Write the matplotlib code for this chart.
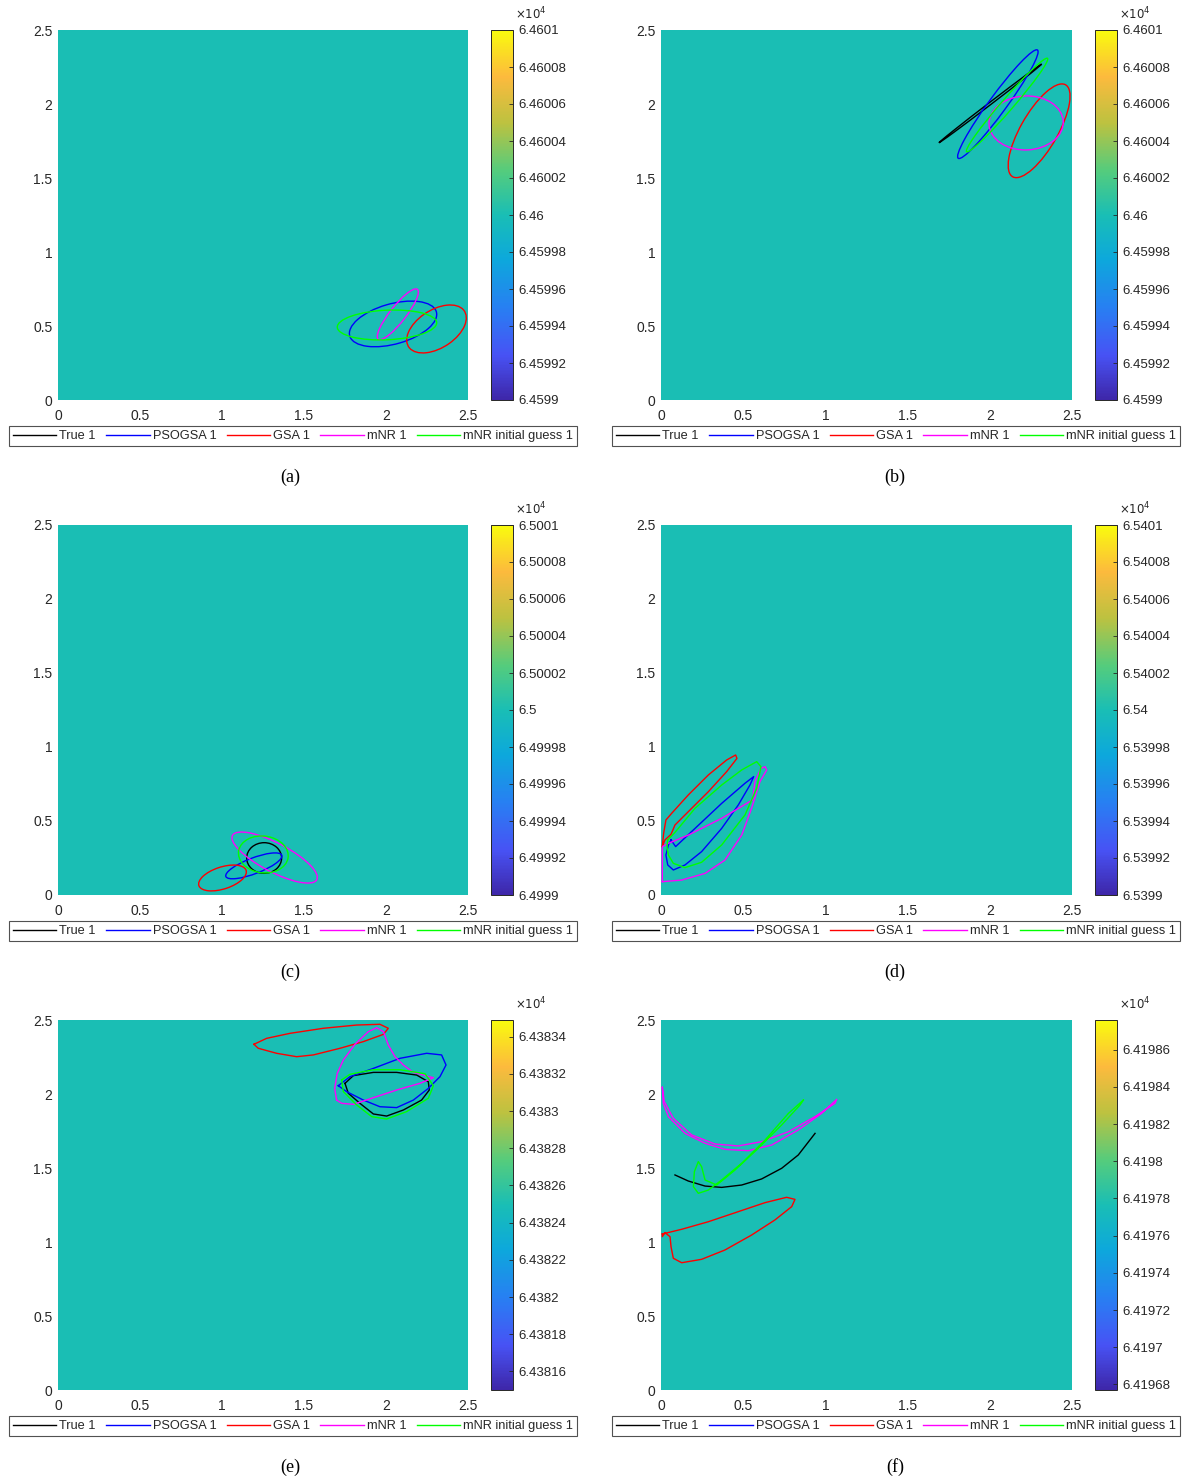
import numpy as np
import matplotlib
matplotlib.use('Agg')
import matplotlib.pyplot as plt
from matplotlib.colors import LinearSegmentedColormap
from matplotlib.patches import Ellipse
from matplotlib.lines import Line2D
from matplotlib.ticker import FuncFormatter

plt.rcParams['font.family'] = ['Liberation Sans', 'DejaVu Sans']

# ---- data ----
panel_labels = ['(a)', '(b)', '(c)', '(d)', '(e)', '(f)']
series_names = ['True 1', 'PSOGSA 1', 'GSA 1', 'mNR 1', 'mNR initial guess 1']
series_colors = ['black', '#0000ff', '#ff0000', '#ff00ff', '#00ff00']

# uniform objective value shown in each panel (x 1e4) and colour limits
field_values = [6.46, 6.46, 6.5, 6.54, 6.43825, 6.419777]
clims = [(6.4599, 6.4601), (6.4599, 6.4601), (6.4999, 6.5001),
         (6.5399, 6.5401), (6.43815, 6.438349), (6.419677, 6.419876)]
cbar_ticks = [
    [6.4599, 6.45992, 6.45994, 6.45996, 6.45998, 6.46, 6.46002, 6.46004, 6.46006, 6.46008, 6.4601],
    [6.4599, 6.45992, 6.45994, 6.45996, 6.45998, 6.46, 6.46002, 6.46004, 6.46006, 6.46008, 6.4601],
    [6.4999, 6.49992, 6.49994, 6.49996, 6.49998, 6.5, 6.50002, 6.50004, 6.50006, 6.50008, 6.5001],
    [6.5399, 6.53992, 6.53994, 6.53996, 6.53998, 6.54, 6.54002, 6.54004, 6.54006, 6.54008, 6.5401],
    [6.43816, 6.43818, 6.4382, 6.43822, 6.43824, 6.43826, 6.43828, 6.4383, 6.43832, 6.43834],
    [6.41968, 6.4197, 6.41972, 6.41974, 6.41976, 6.41978, 6.4198, 6.41982, 6.41984, 6.41986],
]
axis_ticks = [0, 0.5, 1, 1.5, 2, 2.5]
axis_tick_labels = ['0', '0.5', '1', '1.5', '2', '2.5']
edge_ticks = [0.5, 1, 1.5, 2]

# elliptical boundaries: (cx, cy, width, height, angle)
ellipses_a = {
    'PSOGSA 1': (2.043, 0.514, 0.553, 0.27, 18),
    'GSA 1': (2.308, 0.480, 0.418, 0.25, 38),
    'mNR 1': (2.072, 0.579, 0.413, 0.10, 55),
    'mNR initial guess 1': (2.006, 0.507, 0.607, 0.20, 3),
}
ellipses_b = {
    'True 1': (2.003, 2.004, 0.82, 0.015, 40.4),
    'PSOGSA 1': (2.049, 1.999, 0.876, 0.11, 56.7),
    'GSA 1': (2.300, 1.819, 0.70, 0.23, 63.2),
    'mNR 1': (2.221, 1.872, 0.452, 0.365, 3),
    'mNR initial guess 1': (2.105, 1.993, 0.80, 0.075, 52.1),
}
ellipses_c = {
    'True 1': (1.257, 0.25, 0.213, 0.207, 0),
    'PSOGSA 1': (1.194, 0.197, 0.37, 0.105, 23.2),
    'GSA 1': (1.003, 0.115, 0.306, 0.147, 20.6),
    'mNR 1': (1.321, 0.253, 0.595, 0.19, -30.7),
    'mNR initial guess 1': (1.252, 0.274, 0.305, 0.248, -10),
}

# free-form boundaries: list of (x, y) vertices
curves_d = {
    'PSOGSA 1': [(0.061, 0.372), (0.089, 0.327), (0.207, 0.450), (0.369, 0.619), (0.511, 0.755),
                 (0.564, 0.800), (0.541, 0.743), (0.470, 0.608), (0.369, 0.450), (0.247, 0.293),
                 (0.146, 0.203), (0.075, 0.169), (0.041, 0.203), (0.030, 0.270), (0.045, 0.338)],
    'GSA 1': [(0.008, 0.327), (0.016, 0.417), (0.030, 0.507), (0.065, 0.552), (0.166, 0.676),
              (0.288, 0.811), (0.399, 0.912), (0.454, 0.946), (0.462, 0.923), (0.399, 0.833),
              (0.288, 0.698), (0.166, 0.563), (0.085, 0.473), (0.061, 0.410), (0.024, 0.372)],
    'mNR 1': [(0.008, 0.090), (0.126, 0.101), (0.268, 0.146), (0.389, 0.236), (0.491, 0.405),
              (0.551, 0.586), (0.602, 0.766), (0.643, 0.845), (0.633, 0.867), (0.608, 0.856),
              (0.572, 0.766), (0.556, 0.642), (0.369, 0.518), (0.166, 0.405), (0.045, 0.349),
              (0.008, 0.327)],
    'mNR initial guess 1': [(0.041, 0.372), (0.085, 0.423), (0.207, 0.586), (0.369, 0.743),
                            (0.491, 0.845), (0.582, 0.901), (0.608, 0.867), (0.582, 0.721),
                            (0.511, 0.541), (0.369, 0.338), (0.247, 0.221), (0.146, 0.185),
                            (0.075, 0.214), (0.045, 0.270), (0.036, 0.327)],
}
curves_e = {
    'True 1': [(1.750, 2.072), (1.801, 2.124), (1.923, 2.146), (2.065, 2.146), (2.187, 2.128),
               (2.258, 2.083), (2.264, 2.027), (2.217, 1.959), (2.106, 1.892), (2.004, 1.851),
               (1.923, 1.865), (1.841, 1.937), (1.770, 2.005)],
    'PSOGSA 1': [(1.709, 2.056), (1.780, 2.117), (1.923, 2.173), (2.085, 2.241), (2.248, 2.275),
                 (2.339, 2.264), (2.366, 2.196), (2.329, 2.117), (2.258, 2.038), (2.167, 1.959),
                 (2.065, 1.908), (1.963, 1.914), (1.862, 1.959), (1.760, 2.016)],
    'GSA 1': [(1.195, 2.336), (1.272, 2.376), (1.415, 2.410), (1.618, 2.444), (1.821, 2.466),
              (1.963, 2.471), (2.014, 2.444), (1.984, 2.403), (1.862, 2.354), (1.720, 2.309),
              (1.557, 2.264), (1.455, 2.252), (1.333, 2.275), (1.221, 2.309)],
    'mNR 1': [(1.699, 1.959), (1.687, 2.038), (1.703, 2.140), (1.740, 2.230), (1.811, 2.336),
              (1.892, 2.421), (1.943, 2.448), (1.984, 2.421), (2.014, 2.331), (2.055, 2.252),
              (2.106, 2.196), (2.167, 2.146), (2.289, 2.110), (2.207, 2.072), (2.065, 2.027),
              (1.923, 1.975), (1.801, 1.930), (1.730, 1.937)],
    'mNR initial guess 1': [(1.730, 2.095), (1.780, 2.133), (1.923, 2.164), (2.085, 2.164),
                            (2.238, 2.137), (2.289, 2.056), (2.258, 1.971), (2.126, 1.881),
                            (2.004, 1.831), (1.913, 1.847), (1.821, 1.926), (1.740, 2.016)],
}
curves_f = {
    'True 1': [(0.085, 1.453), (0.166, 1.412), (0.268, 1.378), (0.369, 1.369), (0.491, 1.385),
               (0.612, 1.426), (0.734, 1.498), (0.835, 1.588), (0.937, 1.734)],
    'GSA 1': [(0.008, 1.054), (0.126, 1.086), (0.288, 1.137), (0.470, 1.205), (0.633, 1.266),
              (0.764, 1.302), (0.815, 1.288), (0.795, 1.239), (0.693, 1.149), (0.551, 1.047),
              (0.389, 0.946), (0.247, 0.883), (0.126, 0.860), (0.075, 0.890), (0.061, 0.968),
              (0.055, 1.036), (0.024, 1.063), (0.008, 1.036)],
    'mNR 1': [(0.008, 2.045), (0.014, 1.937), (0.045, 1.847), (0.146, 1.734), (0.268, 1.667),
              (0.389, 1.626), (0.531, 1.617), (0.673, 1.655), (0.835, 1.757), (0.977, 1.869),
              (1.069, 1.964), (1.058, 1.937), (0.937, 1.847), (0.775, 1.745), (0.612, 1.678),
              (0.470, 1.649), (0.328, 1.662), (0.187, 1.723), (0.075, 1.836), (0.020, 1.948)],
    'mNR initial guess 1': [(0.866, 1.959), (0.775, 1.869), (0.633, 1.689), (0.491, 1.532),
                            (0.369, 1.419), (0.288, 1.351), (0.227, 1.329), (0.197, 1.374),
                            (0.203, 1.475), (0.227, 1.543), (0.247, 1.509), (0.268, 1.419),
                            (0.339, 1.385), (0.450, 1.486), (0.592, 1.633), (0.734, 1.791),
                            (0.846, 1.926)],
}
open_curves = {('f', 'True 1')}

# approximate MATLAB parula
parula = LinearSegmentedColormap.from_list('parula', [
    (0.0, (0.2422, 0.1504, 0.6603)),
    (0.12, (0.2810, 0.3228, 0.9579)),
    (0.25, (0.1540, 0.5000, 0.9500)),
    (0.38, (0.0500, 0.6600, 0.8600)),
    (0.5, (0.1000, 0.7450, 0.7100)),
    (0.62, (0.3300, 0.8000, 0.4900)),
    (0.75, (0.7400, 0.7600, 0.2500)),
    (0.875, (0.9900, 0.7300, 0.2400)),
    (1.0, (0.9763, 0.9831, 0.0538)),
])

W, H = 1186, 1482
fig = plt.figure(figsize=(W / 100, H / 100), dpi=100)

col_ax = [(58, 410), (661, 411)]
col_cb = [491, 1095]
col_leg = [293, 896]
col_cap = [290, 895]
row_top = [30, 525, 1020]


def px_rect(x, y, w, h):
    return [x / W, 1 - (y + h) / H, w / W, h / H]


def draw_panel(i):
    row, col = divmod(i, 2)
    key = 'abcdef'[i]
    ax = fig.add_axes(px_rect(col_ax[col][0], row_top[row], col_ax[col][1], 370))
    cax = fig.add_axes(px_rect(col_cb[col], row_top[row], 22, 370))

    z = np.full((2, 2), field_values[i])
    mesh = ax.pcolormesh([0, 2.5], [0, 2.5], z, cmap=parula,
                         vmin=clims[i][0], vmax=clims[i][1], shading='nearest')
    ax.set_xlim(0, 2.5)
    ax.set_ylim(0, 2.5)

    if key in 'abc':
        ell = {'a': ellipses_a, 'b': ellipses_b, 'c': ellipses_c}[key]
        for name, color in zip(series_names, series_colors):
            if name in ell:
                cx, cy, w, h, ang = ell[name]
                ax.add_patch(Ellipse((cx, cy), w, h, angle=ang, fill=False,
                                     edgecolor=color, linewidth=1.0))
    else:
        cur = {'d': curves_d, 'e': curves_e, 'f': curves_f}[key]
        for name, color in zip(series_names, series_colors):
            if name in cur:
                pts = list(cur[name])
                if (key, name) not in open_curves:
                    pts = pts + [pts[0]]
                xs, ys = zip(*pts)
                ax.plot(xs, ys, color=color, linewidth=1.0, solid_joinstyle='round')

    for s in ax.spines.values():
        s.set_visible(False)
    ax.set_xticks(axis_ticks)
    ax.set_yticks(axis_ticks)
    ax.set_xticklabels(axis_tick_labels)
    ax.set_yticklabels(axis_tick_labels)
    ax.tick_params(which='major', length=0, labelsize=10, labelcolor='#262626')
    ax.tick_params(axis='x', which='major', pad=6.5)
    ax.tick_params(axis='y', which='major', pad=4)
    ax.set_xticks(edge_ticks, minor=True)
    ax.set_yticks(edge_ticks, minor=True)
    ax.tick_params(which='minor', direction='inout', length=5, width=2.4,
                   color='#2a78d0', top=True, right=True, bottom=True, left=True)

    cb = fig.colorbar(mesh, cax=cax)
    cb.set_ticks(cbar_ticks[i])
    cb.ax.yaxis.set_major_formatter(FuncFormatter(lambda v, p: f'{v:.6g}'))
    cb.ax.tick_params(direction='in', length=3, width=0.6, labelsize=9.5,
                      labelcolor='#262626', color='#262626', pad=4)
    cb.outline.set_edgecolor('#262626')
    cb.outline.set_linewidth(0.7)
    cb.ax.text(1.1, 1.02, r'$\times10^4$', transform=cb.ax.transAxes,
               ha='left', va='bottom', fontsize=8.5, color='#262626')

    handles = [Line2D([], [], color=c, linewidth=1.0) for c in series_colors]
    leg = fig.legend(handles, series_names, loc='center',
                     bbox_to_anchor=(col_leg[col] / W, 1 - (row_top[row] + 406) / H),
                     ncol=5, fontsize=9.2, frameon=True, fancybox=False,
                     handlelength=3.4, handletextpad=0.25, columnspacing=0.8,
                     borderpad=0.3, borderaxespad=0)
    leg.get_frame().set_edgecolor('#262626')
    leg.get_frame().set_linewidth(0.8)
    for t in leg.get_texts():
        t.set_color('#262626')

    fig.text(col_cap[col] / W, 1 - (row_top[row] + 447) / H, panel_labels[i],
             family=['Liberation Serif', 'DejaVu Serif'], fontsize=13,
             ha='center', va='center')


for i in range(6):
    draw_panel(i)

plt.savefig('out.png', dpi=100)
